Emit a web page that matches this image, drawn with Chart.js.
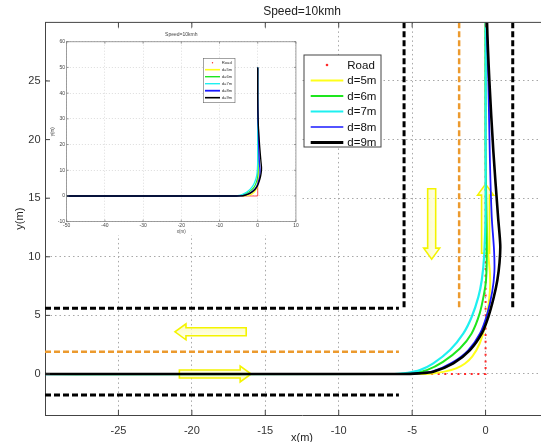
<!DOCTYPE html>
<html>
<head>
<meta charset="utf-8">
<script src="https://cdn.jsdelivr.net/npm/chart.js@4.4.0/dist/chart.umd.min.js"></script>
<style>
  html,body{margin:0;padding:0;background:#fff;overflow:hidden;}
  #wrap{position:relative;width:541px;height:442px;overflow:hidden;}
  #main{position:absolute;left:0;top:0;width:559px;height:442px;}
  #inset{position:absolute;left:50px;top:30px;width:250px;height:205px;background:#fff;}
</style>
</head>
<body>
<div id="wrap">
  <canvas id="main" width="559" height="442"></canvas>
  <canvas id="inset" width="250" height="205"></canvas>
</div>
<script>
const FONT = "'Liberation Sans', Arial, sans-serif";
Chart.defaults.font.family = FONT;

// ticks
const xTicks = [-25, -20, -15, -10, -5, 0];
const yTicks = [0, 5, 10, 15, 20, 25];
const insetXTicks = [-50, -40, -30, -20, -10, 0, 10];
const insetYTicks = [-10, 0, 10, 20, 30, 40, 50, 60];

// reference road (red dots)
const roadX = [-50, 0, 0];
const roadY = [0, 0, 50];

// vehicle paths, one per look-ahead distance
const d5X = [-50, -4.6, -3.6, -2.8, -2.0, -1.4, -0.9, -0.4, -0.05, 0.18, 0.3, 0.3, 0.2, 0.08, 0, 0];
const d5Y = [0, 0, 0.05, 0.2, 0.48, 0.9, 1.5, 2.6, 4.0, 5.7, 7.2, 8.5, 10, 13, 18, 50];
const d6X = [-50, -5.8, -4.8, -4.0, -2.9, -1.75, -0.95, -0.4, -0.1, 0.03, 0.08, 0.05, 0, 0];
const d6Y = [0, 0, 0.12, 0.33, 1.04, 2.18, 3.46, 5.17, 6.87, 8.0, 10, 14, 20, 50];
const d7X = [-50, -6.2, -5.3, -4.47, -3.56, -2.42, -1.51, -0.94, -0.49, -0.26, -0.1, 0, 0];
const d7Y = [0, 0, 0.1, 0.33, 0.9, 2.04, 3.46, 4.88, 6.58, 8.0, 10, 14, 50];
const d8X = [-50, -5.6, -4.6, -3.6, -2.3, -1.2, -0.38, 0.12, 0.45, 0.6, 0.58, 0.42, 0.3, 0.19, 0.08, 0, 0];
const d8Y = [0, 0, 0.06, 0.22, 0.95, 2.0, 3.46, 5.17, 7.0, 8.7, 10.5, 13.4, 18, 25, 30, 38, 50];
const d9X = [-50, -5.6, -4.6, -3.56, -2.2, -1.06, -0.26, 0.19, 0.55, 0.8, 0.95, 1.0, 0.85, 0.53, 0.26, 0.1, 0, 0];
const d9Y = [0, 0, 0.05, 0.19, 0.9, 2.04, 3.46, 4.88, 6.5, 8.0, 9.5, 11, 13.4, 19, 25, 30, 38, 50];

const pathNames = ['d=5m', 'd=6m', 'd=7m', 'd=8m', 'd=9m'];
const pathColors = ['#ffff1a', '#1ee61e', '#1ef0f0', '#1a1aff', '#000000'];

// lane markings
const laneTopX = [-30, -5.9],   laneTopY = [5.6, 5.6];
const laneMidX = [-30, -5.9],   laneMidY = [1.9, 1.9];
const laneBotX = [-30, -5.9],   laneBotY = [-1.8, -1.8];
const laneLeftX = [-5.55, -5.55], laneLeftY = [5.7, 30];
const laneCtrX = [-1.8, -1.8],  laneCtrY = [5.7, 30];
const laneRightX = [1.85, 1.85], laneRightY = [5.7, 30];

// direction arrows (tail -> tip)
const arrowFromX = [-16.3, -20.85, -3.67, 0.0];
const arrowFromY = [3.6, 0, 15.8, 10.3];
const arrowToX = [-21.15, -15.96, -3.67, 0.0];
const arrowToY = [3.6, 0, 9.8, 16.2];

const pts = (xs, ys) => xs.map((x, i) => ({x: x, y: ys[i]}));

const framePlugin = {
  id: 'frame',
  afterDraw(chart, args, o) {
    const {ctx, chartArea: a, scales: {x, y}} = chart;
    ctx.save();
    ctx.strokeStyle = o.color;
    ctx.lineWidth = o.width;
    ctx.beginPath();
    ctx.moveTo(a.left, a.top); ctx.lineTo(a.right, a.top);
    if (o.right) { ctx.moveTo(a.right, a.top); ctx.lineTo(a.right, a.bottom); }
    x.ticks.forEach(t => {
      const p = x.getPixelForValue(t.value);
      ctx.moveTo(p, a.bottom); ctx.lineTo(p, a.bottom - o.len);
      ctx.moveTo(p, a.top); ctx.lineTo(p, a.top + o.len);
    });
    y.ticks.forEach(t => {
      const p = y.getPixelForValue(t.value);
      ctx.moveTo(a.left, p); ctx.lineTo(a.left + o.len, p);
      if (o.right) { ctx.moveTo(a.right, p); ctx.lineTo(a.right - o.len, p); }
    });
    ctx.stroke();
    ctx.restore();
  }
};

const boxLegend = {
  id: 'boxLegend',
  afterDraw(chart, args, o) {
    const ctx = chart.ctx;
    const items = chart.data.datasets.filter(d => d.inLegend);
    ctx.save();
    ctx.fillStyle = '#fff';
    ctx.fillRect(o.left, o.top, o.width, o.height);
    ctx.strokeStyle = o.borderColor;
    ctx.lineWidth = o.borderWidth;
    ctx.strokeRect(o.left, o.top, o.width, o.height);
    ctx.font = o.fontSize + 'px ' + FONT;
    ctx.textBaseline = 'middle';
    items.forEach((d, i) => {
      const cy = o.top + o.firstRow + i * o.rowGap;
      const sx = o.left + o.sampleX;
      if (d.dotLegend) {
        ctx.fillStyle = d.borderColor;
        ctx.beginPath();
        ctx.arc(sx + o.sampleLen / 2, cy, o.dot, 0, Math.PI * 2);
        ctx.fill();
      } else {
        ctx.strokeStyle = d.borderColor;
        ctx.lineWidth = d.legendWidth;
        ctx.setLineDash([]);
        ctx.beginPath();
        ctx.moveTo(sx, cy); ctx.lineTo(sx + o.sampleLen, cy);
        ctx.stroke();
      }
      ctx.fillStyle = o.textColor;
      ctx.fillText(d.label, o.left + o.textX, cy + 0.5);
    });
    ctx.restore();
  }
};

const arrowPlugin = {
  id: 'arrows',
  beforeDatasetsDraw(chart, args, o) {
    const {ctx, scales: {x, y}} = chart;
    arrowFromX.forEach((_, i) => {
      const x0 = x.getPixelForValue(arrowFromX[i]), y0 = y.getPixelForValue(arrowFromY[i]);
      const x1 = x.getPixelForValue(arrowToX[i]), y1 = y.getPixelForValue(arrowToY[i]);
      const len = Math.hypot(x1 - x0, y1 - y0);
      const sw = o.shaft / 2, hw = o.head / 2, hl = o.headLen;
      ctx.save();
      ctx.translate(x0, y0);
      ctx.rotate(Math.atan2(y1 - y0, x1 - x0));
      ctx.beginPath();
      ctx.moveTo(0, -sw); ctx.lineTo(len - hl, -sw); ctx.lineTo(len - hl, -hw);
      ctx.lineTo(len, 0);
      ctx.lineTo(len - hl, hw); ctx.lineTo(len - hl, sw); ctx.lineTo(0, sw);
      ctx.closePath();
      const g = ctx.createLinearGradient(0, -hw, 0, hw);
      g.addColorStop(0, 'rgba(255,255,235,0.75)');
      g.addColorStop(1, 'rgba(250,250,170,0.75)');
      ctx.fillStyle = g;
      ctx.fill();
      ctx.strokeStyle = '#f4f400';
      ctx.lineWidth = 1.6;
      ctx.stroke();
      ctx.restore();
    });
  }
};

function pathSets(widths, legendWidths, roadStyle) {
  const xs = [d5X, d6X, d7X, d8X, d9X], ys = [d5Y, d6Y, d7Y, d8Y, d9Y];
  const out = [Object.assign({
    label: 'Road', data: pts(roadX, roadY), borderColor: '#ff2a2a',
    inLegend: true, dotLegend: true, order: 8, tension: 0
  }, roadStyle)];
  pathNames.forEach((n, i) => {
    out.push({
      label: n, data: pts(xs[i], ys[i]), borderColor: pathColors[i],
      borderWidth: widths[i], legendWidth: legendWidths[i], inLegend: true,
      order: 5 - i, tension: 0.3
    });
  });
  return out;
}

function laneSet(xs, ys, color, w) {
  return {data: pts(xs, ys), borderColor: color, borderWidth: w, borderDash: [6, 3],
          tension: 0, order: 20, borderCapStyle: 'butt'};
}

const mainSets = pathSets([2, 2, 2.2, 1.8, 2.6], [2, 2, 2, 1.5, 3], {borderWidth: 2, borderDash: [2, 4.6]})
  .concat([
    laneSet(laneTopX, laneTopY, '#000', 3),
    laneSet(laneBotX, laneBotY, '#000', 3),
    laneSet(laneMidX, laneMidY, '#ec9a2e', 2.5),
    laneSet(laneLeftX, laneLeftY, '#000', 3),
    laneSet(laneRightX, laneRightY, '#000', 3),
    laneSet(laneCtrX, laneCtrY, '#ec9a2e', 2.5)
  ]);

new Chart(document.getElementById('main'), {
  type: 'scatter',
  data: {datasets: mainSets},
  plugins: [arrowPlugin, framePlugin, boxLegend],
  options: {
    responsive: false,
    animation: false,
    events: [],
    showLine: true,
    elements: {point: {radius: 0}},
    layout: {padding: 0},
    plugins: {
      legend: {display: false},
      tooltip: {enabled: false},
      title: {display: true, text: 'Speed=10kmh', fullSize: false, color: '#222',
              font: {size: 12, weight: 'normal'}, padding: {top: 4, bottom: 4}},
      frame: {color: '#444', width: 1, len: 5, right: false},
      arrows: {shaft: 8, head: 16, headLen: 11},
      boxLegend: {left: 304, top: 55, width: 77, height: 92, firstRow: 10, rowGap: 15.5,
                  sampleX: 6.7, sampleLen: 32.6, textX: 43.3, fontSize: 11.5, dot: 1.3,
                  borderColor: '#444', borderWidth: 1, textColor: '#111'}
    },
    scales: {
      x: {
        type: 'linear', min: -30, max: 5,
        afterBuildTicks: s => { s.ticks = xTicks.map(v => ({value: v})); },
        afterFit: s => { s.height = 27; },
        grid: {color: '#a8a8a8', lineWidth: 1, drawTicks: false},
        border: {color: '#444', width: 1, dash: [1.5, 3]},
        ticks: {color: '#333', font: {size: 11}, padding: 9, maxRotation: 0},
        title: {display: true, text: 'x(m)', color: '#222', font: {size: 11}, padding: {top: 0, bottom: -3}}
      },
      y: {
        type: 'linear', min: -3.5, max: 30,
        afterBuildTicks: s => { s.ticks = yTicks.map(v => ({value: v})); },
        afterFit: s => { s.width = 45; },
        grid: {color: '#a8a8a8', lineWidth: 1, drawTicks: false},
        border: {color: '#444', width: 1, dash: [1.5, 3]},
        ticks: {color: '#333', font: {size: 11}, padding: 4.5},
        title: {display: true, text: 'y(m)', color: '#222', font: {size: 11}, padding: {top: 13, bottom: 0}}
      }
    }
  }
});

const insetSets = pathSets([1.2, 1.1, 1.3, 1.4, 1.3], [1.6, 1.4, 1.4, 1.8, 1.6], {borderWidth: 0.8});

new Chart(document.getElementById('inset'), {
  type: 'scatter',
  data: {datasets: insetSets},
  plugins: [framePlugin, boxLegend],
  options: {
    responsive: false,
    animation: false,
    events: [],
    showLine: true,
    elements: {point: {radius: 0}},
    layout: {padding: {right: 4, top: 0, left: 0, bottom: 0}},
    plugins: {
      legend: {display: false},
      tooltip: {enabled: false},
      title: {display: true, text: 'Speed=10kmh', fullSize: false, color: '#444',
              font: {size: 5, weight: 'normal'}, padding: {top: 2, bottom: 3.7}},
      frame: {color: '#777', width: 0.7, len: 2, right: true},
      boxLegend: {left: 153.3, top: 28.3, width: 31.7, height: 44.4, firstRow: 4.4, rowGap: 7,
                  sampleX: 1.7, sampleLen: 15, textX: 18.4, fontSize: 4.2, dot: 0.7,
                  borderColor: '#666', borderWidth: 0.6, textColor: '#333'}
    },
    scales: {
      x: {
        type: 'linear', min: -50, max: 10,
        afterBuildTicks: s => { s.ticks = insetXTicks.map(v => ({value: v})); },
        afterFit: s => { s.height = 13.3; },
        grid: {color: '#c4c4c4', lineWidth: 0.6, drawTicks: false},
        border: {color: '#777', width: 0.7, dash: [1, 2]},
        ticks: {color: '#444', font: {size: 5}, padding: 1.3, maxRotation: 0},
        title: {display: true, text: 'x(m)', color: '#444', font: {size: 4.5}, padding: {top: 0, bottom: 0.6}}
      },
      y: {
        type: 'linear', min: -10, max: 60,
        afterBuildTicks: s => { s.ticks = insetYTicks.map(v => ({value: v})); },
        afterFit: s => { s.width = 16.7; },
        grid: {color: '#c4c4c4', lineWidth: 0.6, drawTicks: false},
        border: {color: '#777', width: 0.7, dash: [1, 2]},
        ticks: {color: '#444', font: {size: 5}, padding: 1.7},
        title: {display: true, text: 'y(m)', color: '#444', font: {size: 4.5}, padding: {top: 0.5, bottom: 0}}
      }
    }
  }
});
</script>
</body>
</html>
